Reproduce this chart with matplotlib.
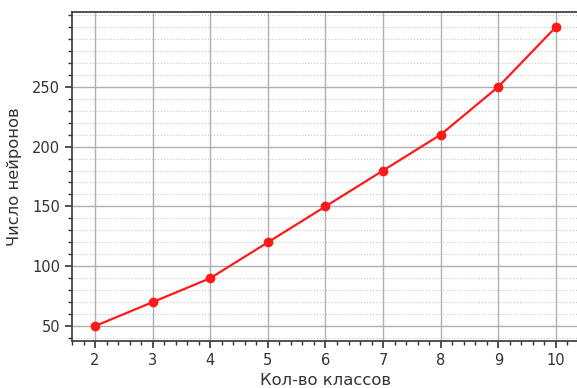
import matplotlib
matplotlib.use("Agg")
import matplotlib.pyplot as plt
import numpy as np

classes = [2, 3, 4, 5, 6, 7, 8, 9, 10]
neurons = [50, 70, 90, 120, 150, 180, 210, 250, 300]

fig = plt.figure(figsize=(5.77, 3.88), dpi=100)
ax = fig.add_axes([72 / 577, 47 / 388, 507 / 577, 329 / 388])

ax.plot(classes, neurons, color='#ff1a1a', marker='o', markersize=6, linewidth=1.6)

ax.set_xlim(1.6, 10.4)
ax.set_ylim(37.5, 312.5)
ax.set_xticks(np.arange(2, 11, 1))
ax.set_xticks(np.arange(1.6, 10.41, 0.2), minor=True)
ax.set_yticks(np.arange(50, 300, 50))
ax.set_yticks(np.arange(40, 311, 10), minor=True)

ax.grid(which='major', color='#b0b0b0', linewidth=1.0)
ax.grid(which='minor', axis='y', color='#c8c8c8', linestyle=':', linewidth=0.8)

ax.tick_params(which='major', length=5, width=1.2, labelsize=10.5, colors='#333333')
ax.tick_params(which='minor', length=3, width=1.0, colors='#333333')
for s in ax.spines.values():
    s.set_linewidth(1.3)
    s.set_color('#444444')

ax.set_xlabel('Кол-во классов', fontsize=11.8, color='#333333')
ax.set_ylabel('Число нейронов', fontsize=11.8, color='#333333', labelpad=7)

fig.savefig('out.png', dpi=100)
